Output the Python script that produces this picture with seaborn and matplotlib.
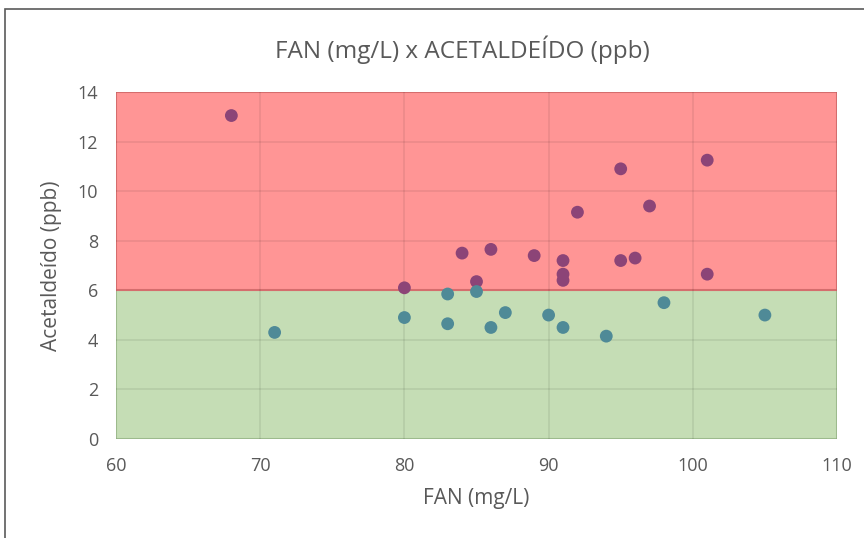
import matplotlib
matplotlib.use("Agg")
import matplotlib.pyplot as plt
from matplotlib.patches import Rectangle
import seaborn as sns
import pandas as pd

# FAN (mg/L) and acetaldehyde (ppb) readings, split by the 6 ppb limit
fan_above = [68, 80, 84, 86, 85, 89, 91, 91, 91, 92, 95, 95, 96, 97, 101, 101]
acet_above = [13.05, 6.1, 7.5, 7.65, 6.35, 7.4, 7.2, 6.65, 6.4, 9.15, 10.9, 7.2, 7.3, 9.4, 11.25, 6.65]

fan_below = [71, 80, 83, 83, 85, 86, 87, 90, 91, 94, 98, 105]
acet_below = [4.3, 4.9, 5.85, 4.65, 5.95, 4.5, 5.1, 5.0, 4.5, 4.15, 5.5, 5.0]

limit = 6
x_ticks = [60, 70, 80, 90, 100, 110]
y_ticks = [0, 2, 4, 6, 8, 10, 12, 14]

df = pd.DataFrame({
    "FAN": fan_above + fan_below,
    "Acet": acet_above + acet_below,
    "grupo": ["acima"] * len(fan_above) + ["abaixo"] * len(fan_below),
})

sns.set_theme(style="white")
plt.rcParams["font.family"] = ["Open Sans", "DejaVu Sans"]

text_gray = "#595959"
fig = plt.figure(figsize=(8.64, 5.38), dpi=100)
ax = fig.add_axes([116 / 864, 1 - 439 / 538, (837 - 116) / 864, (439 - 92) / 538])

# outer chart frame
fig.patches.append(Rectangle((5 / 864, -0.05), 1.2, 1 - 9 / 538 + 0.05,
                             transform=fig.transFigure, fill=False,
                             edgecolor="#5a5a5a", linewidth=1.2, zorder=0))

# limit bands
ax.axhspan(0, limit, facecolor="#c5ddb5", edgecolor="#a9c898", linewidth=1.5, zorder=0)
ax.axhspan(limit, 14, facecolor="#ff9595", edgecolor="#e57575", linewidth=1.5, zorder=0)

# gridlines over bands
for xv in x_ticks:
    ax.axvline(xv, color="black", alpha=0.08, linewidth=1.2, zorder=1)
for yv in y_ticks:
    ax.axhline(yv, color="black", alpha=0.08, linewidth=1.2, zorder=1)

sns.scatterplot(data=df, x="FAN", y="Acet", hue="grupo",
                palette={"acima": "#8c4477", "abaixo": "#4f8a97"},
                s=85, linewidth=0, legend=False, ax=ax, zorder=3)

ax.set_xlim(60, 110)
ax.set_ylim(0, 14)
ax.set_xticks(x_ticks)
ax.set_yticks(y_ticks)
ax.tick_params(axis="both", labelsize=13, colors=text_gray, length=0, pad=13)
for s in ax.spines.values():
    s.set_visible(False)

ax.set_xlabel("FAN (mg/L)", fontsize=15, color=text_gray, labelpad=9)
ax.set_ylabel("Acetaldeído (ppb)", fontsize=15, color=text_gray, labelpad=11)
fig.text(462 / 864, 1 - 50 / 538, "FAN (mg/L) x ACETALDEÍDO (ppb)",
         ha="center", va="center", fontsize=17.5, color=text_gray)

fig.savefig("out.png", dpi=100)
